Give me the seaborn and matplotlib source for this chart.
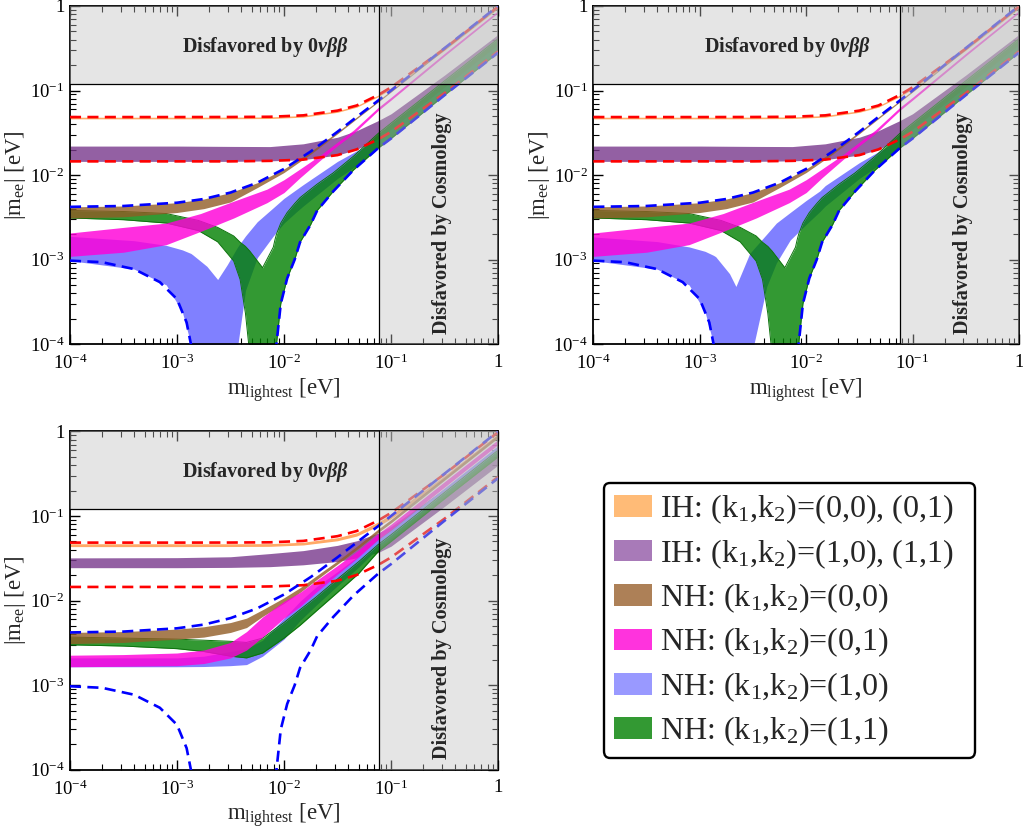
import numpy as np
import matplotlib
matplotlib.use("Agg")
import matplotlib.pyplot as plt
import seaborn as sns
import pandas as pd
from matplotlib.patches import Patch

# ---------------------------------------------------------------------------
# DATA  (x values are given as log10(m_lightest / eV); y values in eV)
# ---------------------------------------------------------------------------
# Inverted hierarchy general bounds (red dashed) and IH bands
IH_LOGX = [-4, -3, -2.5, -2.13, -1.82, -1.5, -1.32, -1.12, -1, -0.5, 0]
IH_MAX = [0.0485, 0.0485, 0.0486, 0.0489, 0.0508, 0.0578, 0.0665, 0.0885, 0.109, 0.313, 0.98]
IH_MIN = [0.0145, 0.0145, 0.0145, 0.0147, 0.0152, 0.0172, 0.0201, 0.0264, 0.0324, 0.093, 0.29]

ORANGE12_HI = [0.0483, 0.0483, 0.0484, 0.0487, 0.0506, 0.0576, 0.0663, 0.0882, 0.108, 0.31, 0.97]
ORANGE12_LO = [0.0462, 0.0462, 0.0463, 0.0466, 0.0484, 0.0552, 0.0635, 0.0845, 0.104, 0.299, 0.935]
PURPLE12_HI = [0.022, 0.022, 0.0218, 0.0217, 0.0234, 0.028, 0.0335, 0.044, 0.053, 0.152, 0.46]
PURPLE12_LO = [0.0145, 0.0145, 0.0145, 0.0147, 0.0152, 0.0172, 0.0201, 0.0264, 0.0324, 0.093, 0.29]

ORANGE3_HI = [0.047, 0.047, 0.047, 0.0472, 0.049, 0.0555, 0.0635, 0.085, 0.104, 0.3, 0.94]
ORANGE3_LO = [0.0435, 0.0435, 0.0436, 0.0438, 0.0455, 0.051, 0.058, 0.076, 0.093, 0.27, 0.85]
PURPLE3_HI = [0.032, 0.0322, 0.033, 0.036, 0.039, 0.045, 0.051, 0.063, 0.075, 0.21, 0.6]
PURPLE3_LO = [0.0245, 0.0245, 0.0247, 0.0252, 0.0265, 0.029, 0.032, 0.037, 0.044, 0.13, 0.4]

# Normal hierarchy general upper bound (blue dashed)
NH_LOGX = [-4, -3.5, -3, -2.75, -2.5, -2.25, -2, -1.75, -1.5, -1.25, -1.12, -1, -0.5, 0]
NH_MAX = [0.0042, 0.0043, 0.0047, 0.0052, 0.0062, 0.0081, 0.0118, 0.019, 0.0325, 0.057, 0.076, 0.1, 0.317, 1.0]
BROWN12_LO = [0.0031, 0.0032, 0.0036, 0.004, 0.0048, 0.0071, 0.0107, 0.0177, 0.0308, 0.0545, 0.073, 0.096, 0.305, 0.96]

# Normal hierarchy general lower bound (blue dashed), two branches
NHMIN_L_LOGX = [-4, -3.7, -3.4, -3.16, -3.0, -2.91, -2.87, -2.85]
NHMIN_L = [0.00097, 0.00093, 0.00077, 0.00054, 0.00034, 0.00018, 0.0001, 0.00003]
NHMIN_R_LOGX = [-2.085, -2.07, -2.03, -1.97, -1.9, -1.85, -1.75, -1.69, -1.54, -1.35, -1.12, -1, -0.5, 0]
NHMIN_R = [0.00003, 0.0001, 0.0003, 0.0006, 0.001, 0.0016, 0.0026, 0.0038, 0.0064, 0.0115, 0.0208, 0.027, 0.088, 0.28]

# NH (0,1) band, upper panels
MAG12_LOGX = [-4, -3.5, -3.1, -2.78, -2.47, -2.16, -2.0, -1.85, -1.66, -1.5, -1.35, -1.12, -1, -0.5, 0]
MAG12_HI = [0.00206, 0.0024, 0.0027, 0.0035, 0.0049, 0.0068, 0.0088, 0.0118, 0.0172, 0.0245, 0.034, 0.063, 0.083, 0.275, 0.88]
MAG12_LO = [0.00109, 0.00122, 0.0015, 0.00215, 0.0031, 0.0047, 0.0062, 0.0093, 0.015, 0.0222, 0.031, 0.058, 0.077, 0.257, 0.83]

# NH (1,1) band, upper panels
GRN12_LOGX = [-4, -3.5, -3.1, -2.8, -2.62, -2.47, -2.41, -2.36, -2.33, -2.32, -2.2, -2.1, -2.085,
              -2.07, -2.03, -1.97, -1.9, -1.85, -1.75, -1.69, -1.54, -1.35, -1.12, -1, -0.5, 0]
GRN12_HI = [0.0038, 0.0037, 0.0035, 0.0029, 0.0024, 0.0019, 0.0016, 0.00143, 0.0013, 0.00126, 0.0008, 0.0014, 0.0017,
            0.002, 0.0027, 0.0036, 0.0046, 0.0054, 0.0068, 0.0078, 0.0106, 0.0167, 0.031, 0.041, 0.13, 0.41]
GRN12_LO = [0.0031, 0.00296, 0.0027, 0.0022, 0.00162, 0.00096, 0.00058, 0.00023, 0.0001, 1e-6, 1e-6, 1e-6, 0.00003,
            0.0001, 0.0003, 0.0006, 0.001, 0.0016, 0.0026, 0.0038, 0.0064, 0.0115, 0.0208, 0.027, 0.088, 0.28]

# NH (1,0) band, top-left panel
BLU1_LOGX = [-4, -3.4, -3.1, -2.95, -2.87, -2.85, -2.72, -2.62, -2.53, -2.45, -2.43, -2.36,
             -2.25, -2.1, -2.0, -1.88, -1.82, -1.5, -1.3, -1.12, -1, -0.5, 0]
BLU1_HI = [0.00188, 0.00167, 0.00147, 0.0013, 0.00118, 0.00113, 0.00083, 0.00058, 0.00087, 0.0013, 0.00143, 0.0019,
           0.0028, 0.0041, 0.0053, 0.0068, 0.0077, 0.0145, 0.02, 0.027, 0.035, 0.11, 0.35]
BLU1_LO = [0.00097, 0.00077, 0.0005, 0.00024, 0.0001, 1e-6, 1e-6, 1e-6, 1e-6, 1e-6, 0.0001, 0.00043,
           0.00105, 0.0019, 0.0027, 0.0037, 0.0043, 0.0091, 0.0135, 0.0208, 0.027, 0.088, 0.28]

# NH (1,0) band, top-right panel
BLU2_LOGX = [-4, -3.4, -3.1, -2.95, -2.87, -2.85, -2.72, -2.66, -2.53, -2.51, -2.49, -2.37,
             -2.28, -2.15, -2.0, -1.87, -1.82, -1.5, -1.3, -1.12, -1, -0.5, 0]
BLU2_HI = [0.00185, 0.00163, 0.00141, 0.00125, 0.00112, 0.00108, 0.00068, 0.00048, 0.00118, 0.00126, 0.00135, 0.002,
           0.0027, 0.0036, 0.005, 0.0065, 0.0075, 0.014, 0.0195, 0.027, 0.035, 0.11, 0.35]
BLU2_LO = [0.00097, 0.00077, 0.0005, 0.00024, 0.0001, 1e-6, 1e-6, 1e-6, 1e-6, 1e-6, 0.0001, 0.00048,
           0.00091, 0.0017, 0.0026, 0.0037, 0.0043, 0.0091, 0.0135, 0.0208, 0.027, 0.088, 0.28]

# Bottom panel NH bands
P3_LOGX = [-4, -3.5, -3, -2.75, -2.5, -2.35, -2.2, -2, -1.85, -1.7, -1.5, -1.3, -1.12, -1, -0.5, 0]
BRN3_HI = [0.0042, 0.0043, 0.0046, 0.0049, 0.0055, 0.0062, 0.0078, 0.0108, 0.0142, 0.0195, 0.0295, 0.046, 0.07, 0.091, 0.29, 0.92]
BRN3_LO = [0.0031, 0.0032, 0.0035, 0.0037, 0.0042, 0.0048, 0.0065, 0.0093, 0.0125, 0.0175, 0.027, 0.042, 0.064, 0.083, 0.265, 0.84]
MAG3_HI = [0.00226, 0.0023, 0.0024, 0.0026, 0.0032, 0.0043, 0.0064, 0.0098, 0.0125, 0.0172, 0.026, 0.04, 0.062, 0.08, 0.255, 0.8]
MAG3_LO = [0.00165, 0.00167, 0.0017, 0.0018, 0.0021, 0.0026, 0.0037, 0.0062, 0.0085, 0.0125, 0.0205, 0.033, 0.053, 0.069, 0.22, 0.7]
BLU3_HI = [0.0021, 0.0021, 0.0021, 0.0022, 0.0025, 0.0027, 0.0034, 0.0062, 0.0098, 0.0145, 0.022, 0.034, 0.053, 0.068, 0.215, 0.68]
BLU3_LO = [0.00165, 0.00165, 0.00165, 0.00166, 0.0017, 0.00175, 0.0022, 0.0035, 0.0058, 0.0088, 0.015, 0.025, 0.042, 0.055, 0.175, 0.55]
GRN3_HI = [0.0037, 0.0036, 0.0035, 0.0034, 0.0033, 0.0032, 0.0036, 0.0055, 0.0078, 0.011, 0.018, 0.029, 0.046, 0.06, 0.19, 0.6]
GRN3_LO = [0.003, 0.0029, 0.0027, 0.0025, 0.0022, 0.0021, 0.0024, 0.0036, 0.0051, 0.0075, 0.0125, 0.021, 0.038, 0.05, 0.16, 0.5]

# Excluded regions
MEE_LIMIT = 0.12
COSMO_LIMIT = 0.077

# Ticks
TICKS = [1e-4, 1e-3, 1e-2, 1e-1, 1]
TICK_LABELS = [r"$10^{-4}$", r"$10^{-3}$", r"$10^{-2}$", r"$10^{-1}$", "1"]

LEGEND_LABELS = [r"IH: (k$_1$,k$_2$)=(0,0), (0,1)",
                 r"IH: (k$_1$,k$_2$)=(1,0), (1,1)",
                 r"NH: (k$_1$,k$_2$)=(0,0)",
                 r"NH: (k$_1$,k$_2$)=(0,1)",
                 r"NH: (k$_1$,k$_2$)=(1,0)",
                 r"NH: (k$_1$,k$_2$)=(1,1)"]
LEGEND_COLORS = ["#ffbb77", "#a87ab8", "#ad8057", "#ff33dd", "#9999ff", "#339933"]

# ---------------------------------------------------------------------------
sns.set_theme(style="ticks")
plt.rcParams["font.family"] = ["Liberation Serif", "DejaVu Serif"]
plt.rcParams["mathtext.fontset"] = "custom"
plt.rcParams["mathtext.rm"] = "Liberation Serif"
plt.rcParams["mathtext.it"] = "Liberation Serif:italic:bold"
plt.rcParams["mathtext.bf"] = "Liberation Serif:bold"
plt.rcParams["axes.linewidth"] = 1.3
plt.rcParams["axes.edgecolor"] = "black"

C_PURPLE = (0.47, 0.22, 0.55)
C_ORANGE = (1.0, 0.58, 0.25)
C_BLUE = (0.5, 0.5, 1.0)
C_GREEN = (0.0, 0.5, 0.0)
C_BROWN = (0.57, 0.36, 0.15)
C_MAG = (1.0, 0.0, 0.85)


def X(lx):
    return 10.0 ** np.asarray(lx, dtype=float)


def band(ax, lx, lo, hi, color, alpha, z, edge=None):
    x = X(lx)
    ax.fill_between(x, lo, hi, facecolor=color, alpha=alpha, lw=0, zorder=z)
    if edge is not None:
        ax.plot(x, hi, color=edge, lw=0.7, zorder=z + 0.05)
        ax.plot(x, lo, color=edge, lw=0.7, zorder=z + 0.05)


def dashed(ax, lx, y, color, z):
    df = pd.DataFrame({"m": X(lx), "mee": y})
    sns.lineplot(data=df, x="m", y="mee", ax=ax, color=color, lw=1.9,
                 linestyle=(0, (4.2, 2.4)), estimator=None, sort=False, zorder=z)


def panel(ax, bands):
    ax.set_xscale("log")
    ax.set_yscale("log")
    ax.set_xlim(1e-4, 1)
    ax.set_ylim(1e-4, 1)
    band(ax, IH_LOGX, bands["purple"][0], bands["purple"][1], C_PURPLE, 0.8, 1.0)
    band(ax, IH_LOGX, bands["orange"][0], bands["orange"][1], C_ORANGE, 0.8, 1.1)
    b = bands["blue"]
    band(ax, b[0], b[1], b[2], C_BLUE, 1.0, 1.2)
    g = bands["green"]
    band(ax, g[0], g[1], g[2], C_GREEN, 0.8, 1.3, edge=(0.05, 0.45, 0.05))
    br = bands["brown"]
    band(ax, br[0], br[1], br[2], C_BROWN, 0.8, 1.4)
    mg = bands["mag"]
    band(ax, mg[0], mg[1], mg[2], C_MAG, 0.82, 1.5)

    dashed(ax, IH_LOGX, IH_MAX, "#ff0000", 3)
    dashed(ax, IH_LOGX, IH_MIN, "#ff0000", 3)
    dashed(ax, NH_LOGX, NH_MAX, "#0000ff", 3.1)
    dashed(ax, NHMIN_L_LOGX, NHMIN_L, "#0000ff", 3.1)
    dashed(ax, NHMIN_R_LOGX, NHMIN_R, "#0000ff", 3.1)

    ax.axhspan(MEE_LIMIT, 1, color=(0.75, 0.75, 0.75), alpha=0.4, lw=0, zorder=5)
    ax.axvspan(COSMO_LIMIT, 1, color=(0.75, 0.75, 0.75), alpha=0.4, lw=0, zorder=5)
    ax.axhline(MEE_LIMIT, color="black", lw=0.9, zorder=6)
    ax.axvline(COSMO_LIMIT, color="black", lw=0.9, zorder=6)

    ax.text(0.0067, 0.33, r"Disfavored by $\mathbf{0}\nu\beta\beta$", ha="center", va="center",
            fontsize=14.5, fontweight="bold", zorder=7)
    ax.text(0.30, 0.0027, "Disfavored by Cosmology", ha="center", va="center", rotation=90,
            fontsize=14.6, fontweight="bold", zorder=7)

    ax.set_xticks(TICKS)
    ax.set_xticklabels(TICK_LABELS)
    ax.set_yticks(TICKS)
    ax.set_yticklabels(TICK_LABELS)
    ax.tick_params(which="both", direction="in", top=True, right=True, colors="black",
                   labelsize=13.5)
    ax.tick_params(which="major", length=7, width=1.0)
    ax.tick_params(which="minor", length=4, width=0.8)
    ax.tick_params(axis="x", pad=7)
    ax.tick_params(axis="y", pad=4)
    ax.set_xlabel(r"$\mathrm{m}_{\mathrm{lightest}}$ [eV]", fontsize=16.5, labelpad=2)
    ax.set_ylabel(r"$|\mathrm{m}_{\mathrm{ee}}|$ [eV]", fontsize=16.5, labelpad=1)
    ax.grid(False)


fig = plt.figure(figsize=(10.23, 8.33), dpi=100)
ax1 = fig.add_axes([0.0684, 0.587, 0.4184, 0.4058])
ax2 = fig.add_axes([0.580, 0.587, 0.416, 0.4058])
ax3 = fig.add_axes([0.0684, 0.0760, 0.4184, 0.4060])

top_common = {
    "purple": (PURPLE12_LO, PURPLE12_HI),
    "orange": (ORANGE12_LO, ORANGE12_HI),
    "green": (GRN12_LOGX, GRN12_LO, GRN12_HI),
    "brown": (NH_LOGX, BROWN12_LO, NH_MAX),
    "mag": (MAG12_LOGX, MAG12_LO, MAG12_HI),
}
p1 = dict(top_common, blue=(BLU1_LOGX, BLU1_LO, BLU1_HI))
p2 = dict(top_common, blue=(BLU2_LOGX, BLU2_LO, BLU2_HI))
p3 = {
    "purple": (PURPLE3_LO, PURPLE3_HI),
    "orange": (ORANGE3_LO, ORANGE3_HI),
    "blue": (P3_LOGX, BLU3_LO, BLU3_HI),
    "green": (P3_LOGX, GRN3_LO, GRN3_HI),
    "brown": (P3_LOGX, BRN3_LO, BRN3_HI),
    "mag": (P3_LOGX, MAG3_LO, MAG3_HI),
}
panel(ax1, p1)
panel(ax2, p2)
panel(ax3, p3)

handles = [Patch(facecolor=c, edgecolor="none") for c in LEGEND_COLORS]
leg = fig.legend(handles, LEGEND_LABELS, loc="upper left",
                 bbox_to_anchor=(0.5904, 0.0880, 0.3627, 0.3322), mode="expand",
                 fontsize=23, frameon=True, fancybox=True, framealpha=1, edgecolor="black",
                 handlelength=1.2, handleheight=0.66, handletextpad=0.25, labelspacing=0.34,
                 borderpad=0.3, borderaxespad=0)
leg.get_frame().set_linewidth(1.7)

fig.savefig("out.png", dpi=100)
